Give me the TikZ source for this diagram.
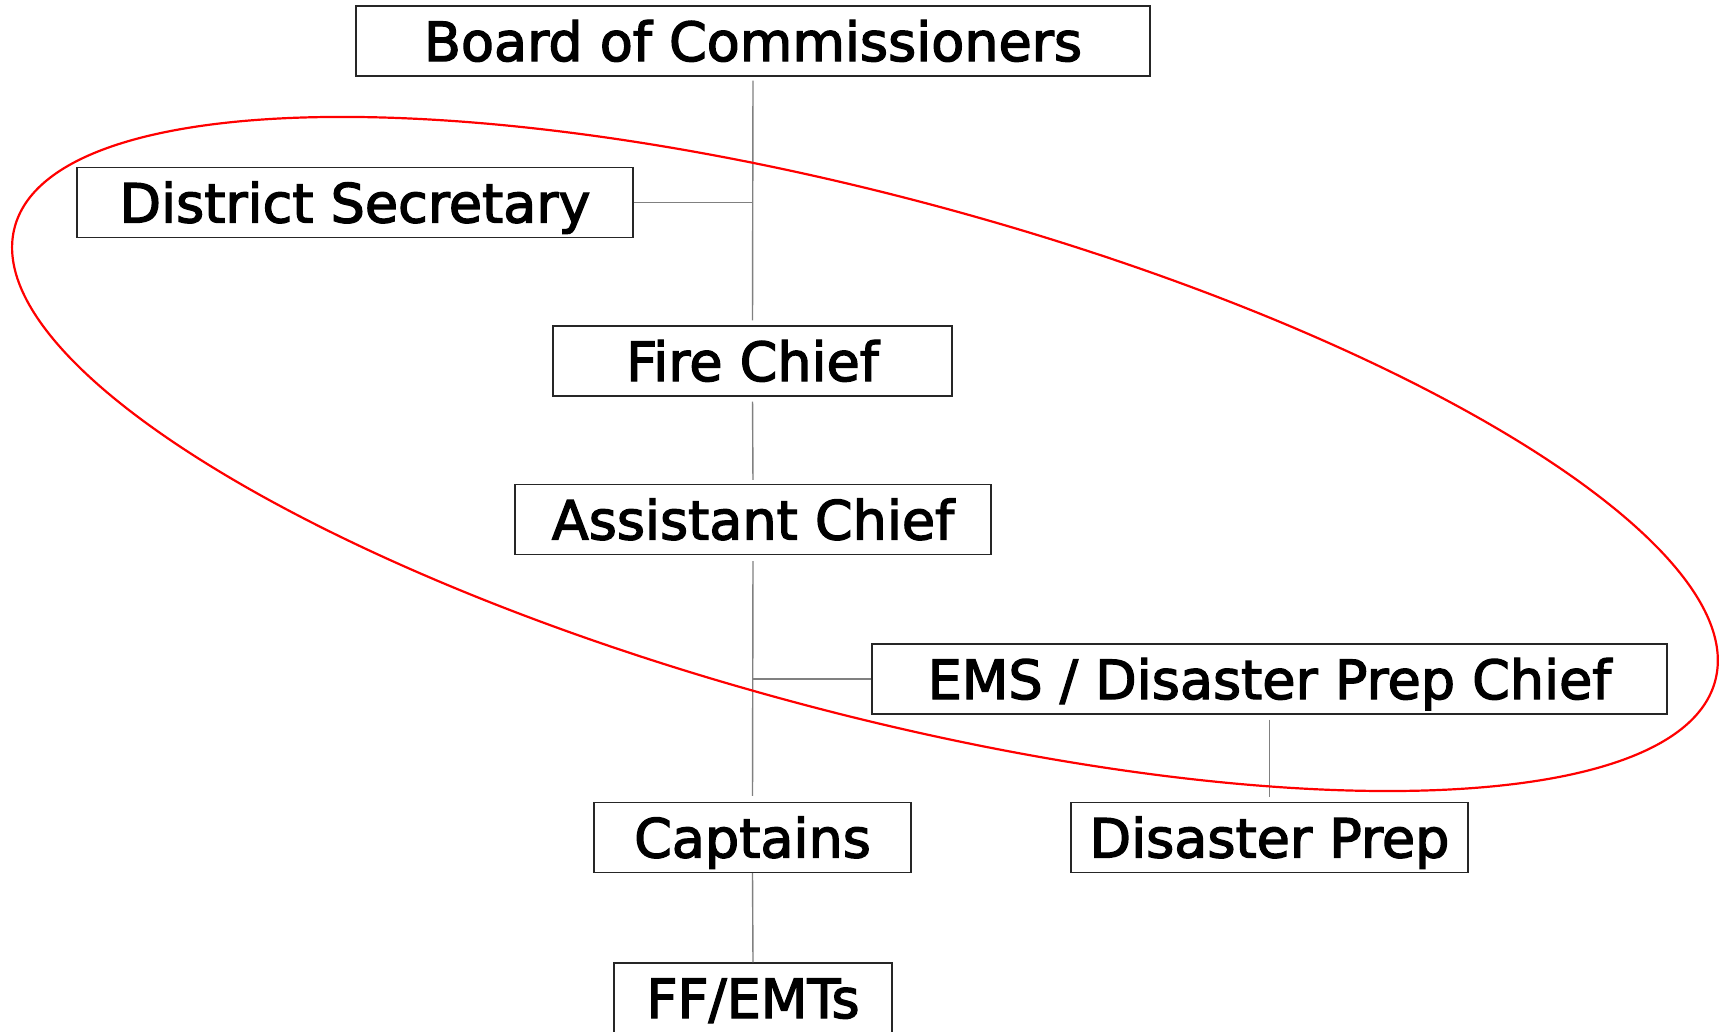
\documentclass[tikz,border=0pt]{standalone}
\usepackage{fontspec}
\newfontfamily\orgfont[RawFeature={embolden=2.5}]{DejaVu Sans}
\begin{document}
\begin{tikzpicture}[x=1pt,y=-1pt,
  orgbox/.style={draw=black!85,line width=1.2pt,inner sep=0pt,minimum height=70pt,
    text height=40pt,text depth=0pt,font=\orgfont\fontsize{54}{64}\selectfont},
  link/.style={draw=black!50,line width=1.4pt},
  circ/.style={draw=red,line width=2.2pt}]
\useasboundingbox (0,0) rectangle (1724,1031);
\node[orgbox,minimum width=794pt] (board) at (753,41) {Board of Commissioners};
\node[orgbox,minimum width=556pt] (ds) at (355,202.5) {District Secretary};
\node[orgbox,minimum width=399pt] (fc) at (752.5,361) {Fire Chief};
\node[orgbox,minimum width=476pt] (ac) at (753,519.5) {Assistant Chief};
\node[orgbox,minimum width=795pt] (ems) at (1269.5,679) {EMS / Disaster Prep Chief};
\node[orgbox,minimum width=317pt] (cap) at (752.5,837.5) {Captains};
\node[orgbox,minimum width=397pt] (dp) at (1269.5,837.5) {Disaster Prep};
\node[orgbox,minimum width=278pt] (ff) at (753,998) {FF/EMTs};
\draw[link,shorten <=4pt,shorten >=5pt] (board.south) -- (fc.north);
\draw[link] (ds.east) -- (ds.east -| board.south);
\draw[link,shorten <=5pt,shorten >=4pt] (fc.south) -- (ac.north);
\draw[link,shorten <=6pt,shorten >=6pt] (ac.south) -- (cap.north);
\draw[link] (ems.west) -- (ems.west -| ac.south);
\draw[link,shorten <=5pt,shorten >=5pt] (ems.south) -- (dp.north);
\draw[link] (cap.south) -- (ff.north);
\coordinate (ec) at (865,454);
\draw[circ,rotate around={-14.94:(ec)}] (ec) ellipse [x radius=880pt,y radius=258pt];
\end{tikzpicture}
\end{document}
